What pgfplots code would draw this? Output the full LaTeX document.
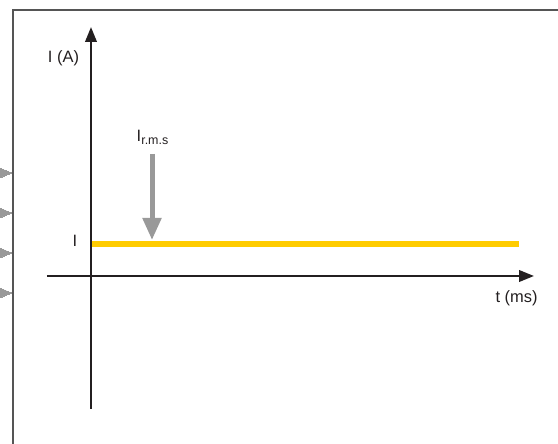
\documentclass[border=0pt]{standalone}
\usepackage{pgfplots}
\pgfplotsset{compat=1.18}
\usepackage{fontspec}
\setmainfont{Liberation Sans}
\usetikzlibrary{arrows.meta}
\definecolor{axisblack}{HTML}{231F20}
\definecolor{irmsgray}{HTML}{999999}
\definecolor{levelyellow}{HTML}{FFCC00}
\definecolor{framegray}{HTML}{555555}
\newcommand{\lbl}{\fontsize{16.5}{16.5}\selectfont}
\begin{document}
\begin{tikzpicture}
\begin{axis}[
  scale only axis, width=487bp, height=382bp,
  xmin=-44, xmax=443, ymin=-133, ymax=249,
  axis lines=middle, enlargelimits=false,
  axis line style={axisblack, line width=2.3bp, -{Triangle[length=15bp,width=11.5bp]}},
  xtick=\empty, ytick=\empty,
  clip=false,
  xlabel={t (ms)}, ylabel={I (A)},
  xlabel style={at={(axis cs:425.5,-27)}, anchor=base, rotate=0, font=\lbl, text=axisblack},
  ylabel style={at={(axis cs:-27.5,213)}, anchor=base, rotate=0, font=\lbl, text=axisblack},
]
  % bounding box of the original crop
  \coordinate (bl) at (axis cs:-91,-168);
  \coordinate (tr) at (axis cs:467,276);
  % frame of the cropped figure
  \addplot[framegray, line width=1.4bp, no marks] coordinates {(-78,-168)(-78,266)(467,266)};
  % arrowheads cut off at the left edge
  \addplot[irmsgray, only marks, mark=triangle*, mark size=5.6bp,
    mark options={rotate=-90, yscale=1.4, fill=irmsgray, draw=irmsgray, line width=0pt}]
    coordinates {(-87,103)(-87,63)(-87,23)(-87,-17)};
  % constant current level
  \addplot[levelyellow, line width=6bp, no marks] coordinates {(1.2,32)(428,32)};
  % r.m.s. arrow
  \addplot[irmsgray, line width=5bp, no marks, -{Triangle[length=22bp,width=18bp]}]
    coordinates {(61,122)(61,36)};
  \node[anchor=base, text=axisblack, inner sep=0pt] at (axis cs:-16,29) {\lbl I};
  \node[anchor=base, text=axisblack, inner sep=0pt] at (axis cs:61.5,134)
    {\lbl I\raisebox{-2.5bp}{\fontsize{12.5}{12.5}\selectfont r.m.s}};
\end{axis}
\pgfresetboundingbox
\path[use as bounding box] (bl) rectangle (tr);
\end{tikzpicture}
\end{document}
